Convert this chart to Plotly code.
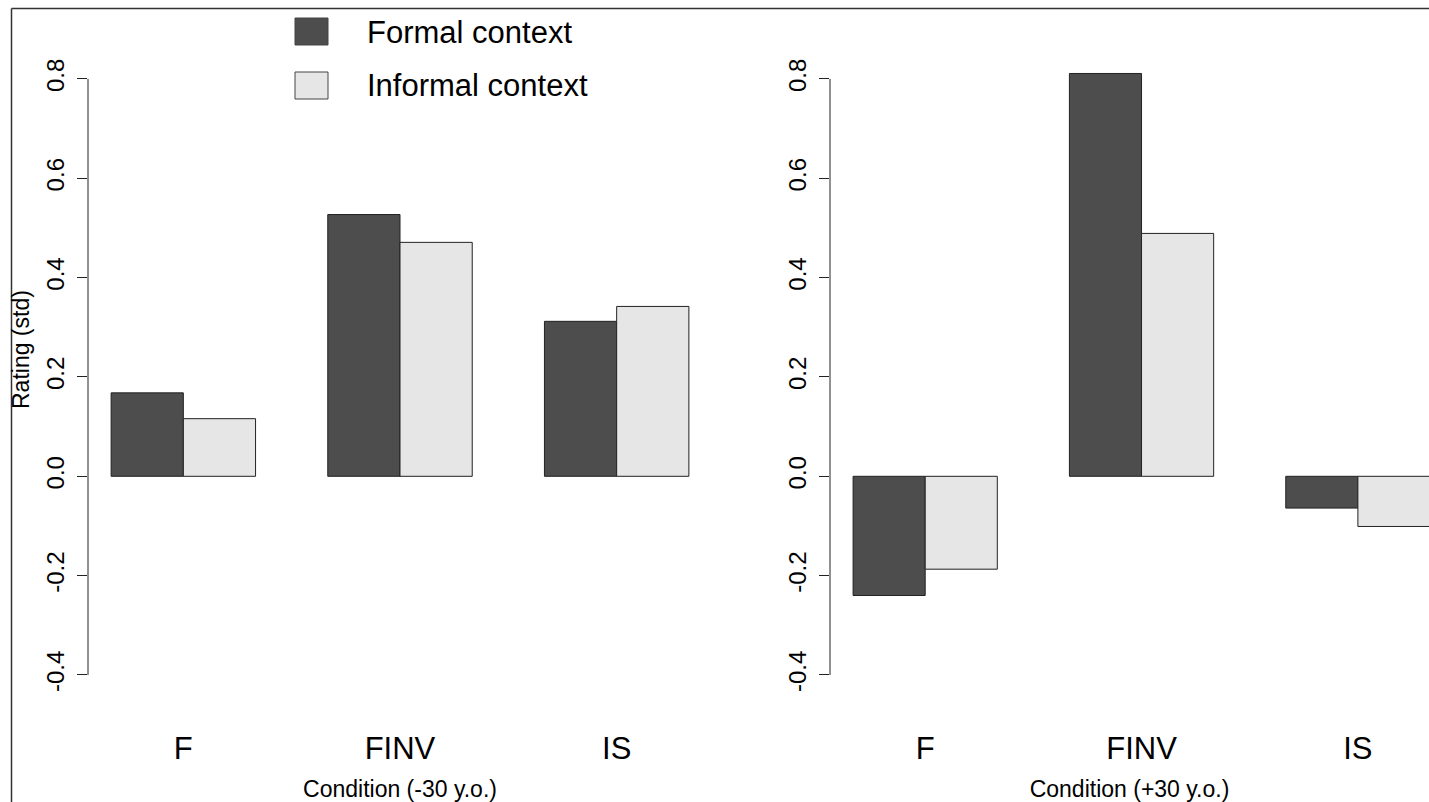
import plotly.graph_objects as go

W, H = 1429, 802

categories = ["F", "FINV", "IS"]
formal_young = [0.168, 0.527, 0.312]
informal_young = [0.116, 0.471, 0.342]
formal_old = [-0.240, 0.811, -0.064]
informal_old = [-0.187, 0.489, -0.101]
y_ticks = [-0.4, -0.2, 0.0, 0.2, 0.4, 0.6, 0.8]
y_tick_text = ["-0.4", "-0.2", "0.0", "0.2", "0.4", "0.6", "0.8"]
legend_labels = ["Formal context", "Informal context"]
x_titles = ["Condition (-30 y.o.)", "Condition (+30 y.o.)"]
y_title = "Rating (std)"

DARK = "#4D4D4D"
LIGHT = "#E6E6E6"
EDGE = "#222222"
FONT = "Liberation Sans, Arial, Helvetica, sans-serif"

fig = go.Figure()


def add_bars(vals, color, xa, ya, off):
    fig.add_trace(go.Bar(
        x=categories, y=vals, xaxis=xa, yaxis=ya, offsetgroup=off,
        marker=dict(color=color, line=dict(color=EDGE, width=1)),
        showlegend=False, hoverinfo="x+y",
    ))


add_bars(formal_young, DARK, "x", "y", "a")
add_bars(informal_young, LIGHT, "x", "y", "b")
add_bars(formal_old, DARK, "x2", "y2", "a")
add_bars(informal_old, LIGHT, "x2", "y2", "b")

plot_top, plot_bot = 8, 702          # px
zero_px, unit_px = 476.3, 496.7      # px of y=0 and px per unit
y_range = [-(plot_bot - zero_px) / unit_px, (zero_px - plot_top) / unit_px]

xaxis_common = dict(
    type="category", showline=False, showgrid=False, zeroline=False,
    ticks="", tickfont=dict(size=31, color="black", family=FONT),
    ticklabelstandoff=25, fixedrange=True,
)
xtitle_font = dict(size=23, color="black", family=FONT)
yaxis_common = dict(
    range=y_range, showline=False, showgrid=False, zeroline=False,
    tickmode="array", tickvals=y_ticks, ticktext=y_tick_text,
    ticks="outside", ticklen=10, tickcolor="#222", tickwidth=1,
    tickangle=-90, tickfont=dict(size=24, color="black", family=FONT),
    ticklabelstandoff=3, fixedrange=True,
)

fig.update_layout(
    width=W, height=H,
    margin=dict(l=0, r=0, t=plot_top, b=H - plot_bot),
    paper_bgcolor="white", plot_bgcolor="white",
    barmode="group", bargap=1 / 3, bargroupgap=0,
    font=dict(family=FONT, color="black"),
    xaxis=dict(domain=[88 / W, 712 / W], range=[-0.44, 2.44], anchor="y",
               title=dict(text=x_titles[0], font=xtitle_font, standoff=15),
               **xaxis_common),
    xaxis2=dict(domain=[830 / W, 1.0], range=[-0.44, 2.3287], anchor="y2",
                title=dict(text=x_titles[1], font=xtitle_font, standoff=15),
                **xaxis_common),
    yaxis=dict(domain=[0, 1], anchor="x", **yaxis_common),
    yaxis2=dict(domain=[0, 1], anchor="x2", **yaxis_common),
)

shapes = []
# y axis lines spanning the tick range
for xr, yr in [("x domain", "y"), ("x2 domain", "y2")]:
    shapes.append(dict(type="line", xref=xr, yref=yr, x0=0, x1=0,
                       y0=y_ticks[0], y1=y_ticks[-1], line=dict(color="#222", width=1)))

ph = plot_bot - plot_top


def py(px):
    """px (y, from top) -> paper fraction"""
    return (plot_bot - px) / ph


def pxr(px):
    """px (x) -> paper fraction"""
    return px / W


# outer frame (top and left)
shapes.append(dict(type="line", xref="paper", yref="paper", x0=pxr(11.5), x1=1,
                   y0=py(8.5), y1=py(8.5), line=dict(color="#333", width=1.5)))
shapes.append(dict(type="line", xref="paper", yref="paper", x0=pxr(11.5), x1=pxr(11.5),
                   y0=py(802), y1=py(8.5), line=dict(color="#333", width=1.5)))

annotations = []
# legend keys
for i, (lab, col) in enumerate(zip(legend_labels, [DARK, LIGHT])):
    top = 18 + i * 54
    shapes.append(dict(type="rect", xref="paper", yref="paper",
                       x0=pxr(295), x1=pxr(328), y0=py(top), y1=py(top + 27),
                       fillcolor=col, line=dict(color="#444", width=1)))
    annotations.append(dict(text=lab, xref="paper", yref="paper", x=pxr(365),
                            y=py(top + 14), xanchor="left", yanchor="middle",
                            showarrow=False, font=dict(size=31, color="black", family=FONT)))

annotations.append(dict(text=y_title, xref="paper", yref="paper", x=pxr(21), y=py(350),
                        xanchor="center", yanchor="middle", textangle=-90, showarrow=False,
                        font=dict(size=23, color="black", family=FONT)))

fig.update_layout(shapes=shapes, annotations=annotations)

fig.write_html(
    "out.html",
    config={"displayModeBar": False},
    post_script="document.body.style.margin='0';document.body.style.overflow='hidden';",
)
